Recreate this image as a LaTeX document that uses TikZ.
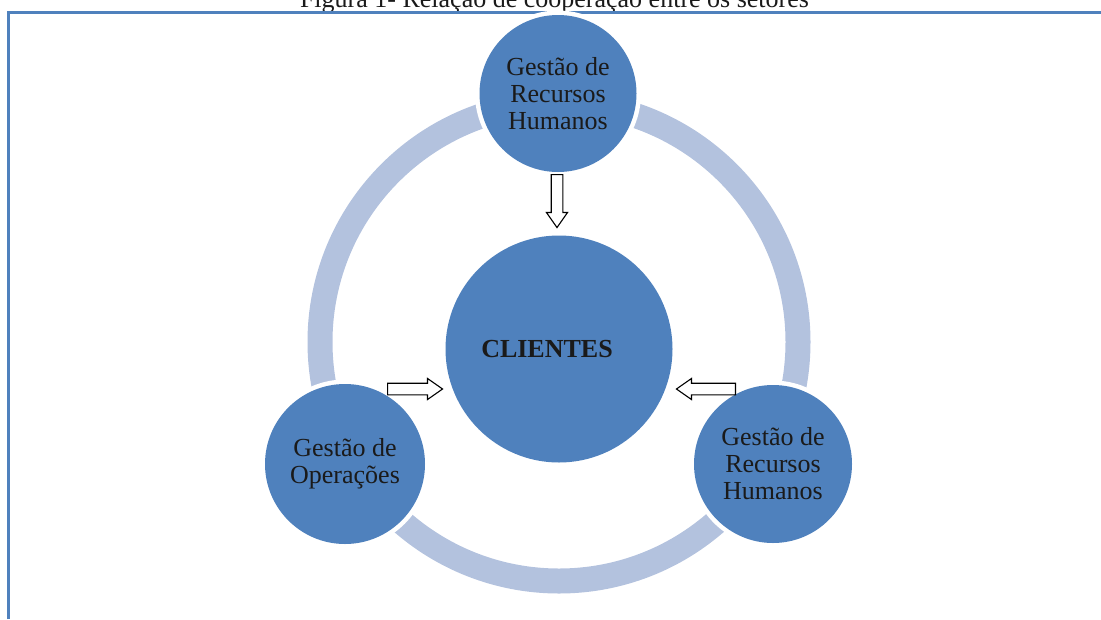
\documentclass[tikz,border=0pt]{standalone}
\usepackage{fontspec}
\setmainfont{Liberation Serif}
\usetikzlibrary{shapes.arrows}
\definecolor{accent}{RGB}{79,129,189}
\definecolor{ringblue}{RGB}{179,194,222}
\definecolor{ink}{RGB}{26,26,26}
\begin{document}
\begin{tikzpicture}[x=1pt,y=-1pt,
  sector/.style={circle, fill=accent, inner sep=0pt, align=center, text=ink,
    font=\fontsize{26}{27}\selectfont, preaction={draw=white, line width=9pt}},
  blockarrow/.style={single arrow, draw=black, fill=white, line width=1.1pt,
    inner xsep=0pt, inner ysep=5.25pt, single arrow head extend=4.75pt,
    single arrow tip angle=70},
  frame/.style={accent, line width=3pt},
  cycle ring/.style={ringblue, line width=25pt},
]
\useasboundingbox (0,0) rectangle (1101,619);

% caption above the frame
\node[font=\fontsize{26}{27}\selectfont, text=ink, anchor=base, inner sep=0pt]
  (title) at (554.5,7) {Figura 1- Relação de cooperação entre os setores};

% frame lines
\draw[frame] (8,619) -- (8,12) -- (1101,12);

% cycle ring behind the sectors
\draw[cycle ring] (559,342) circle[radius=239pt];

% sectors
\node[sector, minimum size=157pt] (hrtop) at (558,93.5) {Gestão de\\Recursos\\Humanos};
\node[sector, minimum size=227pt, font=\bfseries\fontsize{26}{27}\selectfont]
  (cli) at (559,349) {CLIENTES\hspace{24pt}};
\node[sector, minimum size=160pt] (ops) at (345,464) {Gestão de\\Operações};
\node[sector, minimum size=158pt] (hrright) at (773,464) {Gestão de\\Recursos\\Humanos};

% block arrows towards the clients
\node[blockarrow, minimum height=53pt, rotate=-90, anchor=tail] (a1) at (557,174) {};
\node[blockarrow, minimum height=55pt, anchor=tail] (a2) at (387,389) {};
\node[blockarrow, minimum height=59pt, rotate=180, anchor=tail] (a3) at (736,389) {};
\end{tikzpicture}
\end{document}
